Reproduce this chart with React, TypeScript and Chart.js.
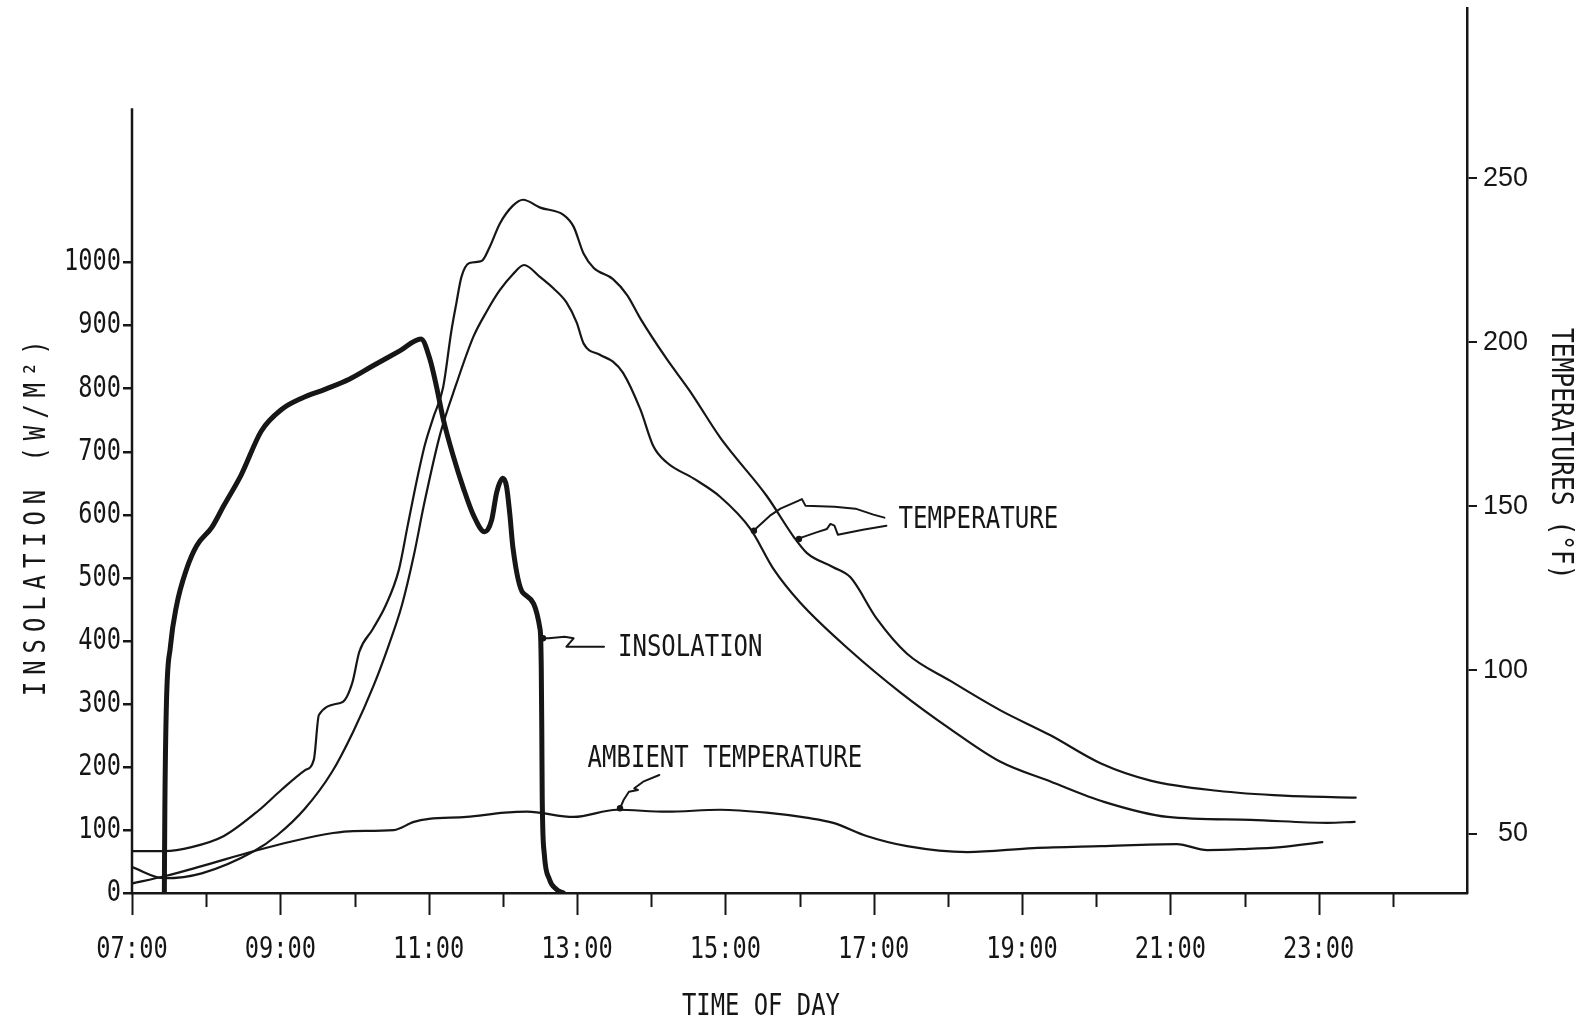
import React, { useEffect, useRef } from 'react';
import { Chart, registerables } from 'chart.js';

Chart.register(...registerables);

// ---------------- data ----------------
const xTickHours = [7, 9, 11, 13, 15, 17, 19, 21, 23];
const xTickLabels = ['07:00', '09:00', '11:00', '13:00', '15:00', '17:00', '19:00', '21:00', '23:00'];
const insolationTicks = [0, 100, 200, 300, 400, 500, 600, 700, 800, 900, 1000];
const temperatureTicks = [50, 100, 150, 200, 250];

// Insolation (W/m2), thick line, left axis
const insolationTime = [7.436, 7.443, 7.463, 7.518, 7.599, 7.736, 7.872, 8.076, 8.24, 8.471, 8.744, 9.016, 9.289, 9.602, 9.929, 10.243, 10.61, 10.896, 11.019, 11.108, 11.196, 11.332, 11.469, 11.605, 11.755, 11.85, 11.918, 12.0, 12.05, 12.095, 12.136, 12.272, 12.504, 12.518, 12.525, 12.531, 12.559, 12.627, 12.722, 12.817];
const insolationWm2 = [0, 135, 295, 391, 455, 514, 551, 580, 615, 663, 733, 767, 785, 799, 815, 836, 860, 879, 846, 802, 752, 693, 642, 599, 573, 592, 636, 658, 645, 600, 548, 476, 417, 359, 263, 151, 62, 22, 6, 0];

// Collector temperature, higher curve (deg F), right axis
const tempATime = [7.0, 7.436, 7.804, 8.24, 8.703, 9.016, 9.33, 9.452, 9.52, 9.834, 9.97, 10.065, 10.243, 10.42, 10.597, 10.719, 10.842, 10.951, 11.06, 11.196, 11.305, 11.373, 11.441, 11.55, 11.714, 11.823, 11.959, 12.136, 12.272, 12.504, 12.817, 12.954, 13.09, 13.226, 13.485, 13.676, 13.853, 14.207, 14.52, 14.929, 15.106, 15.556, 15.924, 16.101, 16.455, 16.687, 17.041, 17.45, 18.035, 18.703, 19.384, 20.065, 20.733, 21.632, 22.531, 23.499];
const tempAValues = [44.8, 44.8, 46.0, 49.4, 57.1, 63.5, 69.4, 72.7, 86.3, 90.2, 96.1, 105.6, 112.4, 119.7, 130.5, 144.3, 158.1, 168.9, 176.9, 186.4, 203.3, 211.9, 219.9, 224.2, 224.8, 229.1, 236.2, 241.7, 243.5, 241.1, 238.9, 235.3, 227.0, 222.7, 219.3, 214.4, 207.3, 195.0, 185.2, 171.0, 165.8, 153.2, 140.6, 135.7, 131.4, 128.3, 115.7, 105.0, 96.7, 87.8, 80.1, 71.5, 66.3, 63.2, 61.7, 61.1];

// Collector temperature, lower curve (deg F), right axis
const tempBTime = [7.0, 7.436, 7.94, 8.649, 8.962, 9.33, 9.698, 9.984, 10.256, 10.46, 10.638, 10.801, 10.937, 11.155, 11.373, 11.605, 11.782, 11.959, 12.136, 12.286, 12.504, 12.681, 12.858, 12.995, 13.09, 13.308, 13.485, 13.621, 13.853, 14.03, 14.207, 14.575, 14.929, 15.338, 15.651, 16.005, 16.687, 17.354, 18.035, 18.703, 19.384, 20.106, 20.965, 22.082, 23.117, 23.485];
const tempBValues = [39.9, 36.5, 38.0, 44.8, 49.7, 57.7, 69.0, 81.3, 95.2, 107.5, 119.7, 135.1, 150.5, 172.0, 187.3, 201.8, 209.4, 215.9, 220.8, 223.6, 219.9, 216.5, 212.2, 206.1, 199.6, 196.2, 194.1, 190.7, 179.6, 168.3, 163.4, 158.4, 152.9, 143.1, 130.8, 120.7, 105.9, 93.3, 82.0, 72.1, 66.0, 59.8, 55.2, 54.3, 53.4, 53.7];

// Ambient temperature (deg F), right axis
const ambientTime = [7.0, 7.436, 7.94, 8.649, 9.166, 9.711, 9.984, 10.529, 10.801, 11.005, 11.51, 12.027, 12.327, 12.954, 13.54, 14.207, 14.929, 15.556, 16.114, 16.455, 16.905, 17.45, 18.267, 19.153, 20.065, 21.087, 21.496, 21.973, 22.49, 23.049];
const ambientValues = [34.9, 37.1, 40.2, 44.8, 47.8, 50.3, 50.9, 51.2, 53.7, 54.6, 55.2, 56.5, 56.8, 55.2, 57.4, 56.8, 57.4, 56.5, 54.9, 53.4, 49.4, 46.3, 44.5, 45.7, 46.3, 46.9, 45.1, 45.4, 46.0, 47.5];

// ---------------- style / layout ----------------
const INK = '#161616';
const RIGHT_TICK_FONT = "'Liberation Sans', Arial, sans-serif";
const MONO = "'DejaVu Sans Mono', 'Liberation Mono', monospace";
const X_MIN = 7;
const X_MAX = 25;
const Y_MAX = 1404;
const Y2_MIN = 32;
const Y2_MAX = 302;
const LEFT_AXIS_TOP = 1245;

const pts = (ts: number[], vs: number[]) => ts.map((t, i) => ({ x: t, y: vs[i] }));

function text(
  ctx: CanvasRenderingContext2D,
  s: string,
  x: number,
  y: number,
  size: number,
  sx: number,
  rot = 0,
  align: CanvasTextAlign = 'left',
  spacing = 0
) {
  ctx.save();
  ctx.translate(x, y);
  if (rot) ctx.rotate(rot);
  ctx.scale(sx, 1);
  ctx.font = `${size}px ${MONO}`;
  (ctx as any).letterSpacing = `${spacing}px`;
  ctx.textAlign = align;
  ctx.textBaseline = 'middle';
  ctx.fillStyle = INK;
  ctx.fillText(s, 0, 0);
  ctx.restore();
}

function arrow(ctx: CanvasRenderingContext2D, ox: number, oy: number, path: number[][]) {
  ctx.save();
  ctx.strokeStyle = INK;
  ctx.fillStyle = INK;
  ctx.lineWidth = 2;
  ctx.lineJoin = 'round';
  ctx.lineCap = 'round';
  ctx.beginPath();
  path.forEach(([dx, dy], i) => {
    if (i === 0) ctx.moveTo(ox + dx, oy + dy);
    else ctx.lineTo(ox + dx, oy + dy);
  });
  ctx.stroke();
  const [ex, ey] = path[path.length - 1];
  ctx.beginPath();
  ctx.arc(ox + ex, oy + ey, 3.2, 0, Math.PI * 2);
  ctx.fill();
  ctx.restore();
}

const noPad = (s: any) => {
  s.paddingTop = 0;
  s.paddingBottom = 0;
  s.paddingLeft = 0;
  s.paddingRight = 0;
};

const decor = {
  id: 'decor',
  afterDraw(chart: any) {
    const { ctx, chartArea, scales } = chart;
    const xs = scales.x;
    const ys = scales.y;
    const y2 = scales.y2;
    ctx.save();
    ctx.strokeStyle = INK;
    ctx.lineWidth = 2.5;
    ctx.lineCap = 'butt';
    // left axis line (shorter than the right one)
    const xl = xs.getPixelForValue(X_MIN);
    ctx.beginPath();
    ctx.moveTo(xl, ys.getPixelForValue(0) + 1);
    ctx.lineTo(xl, ys.getPixelForValue(LEFT_AXIS_TOP));
    ctx.stroke();
    // hour tick marks below the x axis
    ctx.lineWidth = 2;
    ctx.beginPath();
    for (let h = X_MIN; h <= 24; h++) {
      const px = Math.round(xs.getPixelForValue(h)) + 0.5;
      const len = h % 2 === 1 ? 22 : 14;
      ctx.moveTo(px, chartArea.bottom);
      ctx.lineTo(px, chartArea.bottom + len);
    }
    ctx.stroke();
    ctx.restore();

    // tick labels (plotter-style condensed monospace), placed by the scales
    ys.ticks.forEach((t: any) => {
      text(ctx, String(t.value), chartArea.left - 11, ys.getPixelForValue(t.value), 30, 0.79, 0, 'right');
    });
    xs.ticks.forEach((t: any) => {
      const i = xTickHours.indexOf(t.value);
      if (i >= 0) text(ctx, xTickLabels[i], xs.getPixelForValue(t.value), chartArea.bottom + 57, 30, 0.79, 0, 'center');
    });

    // axis titles
    text(ctx, 'INSOLATION (W/M²)', chartArea.left - 94.5, ys.getPixelForValue(600), 30, 0.8, -Math.PI / 2, 'center', 8.6);
    text(ctx, 'TEMPERATURES (°F)', chartArea.right + 93, y2.getPixelForValue(166), 30, 0.82, Math.PI / 2, 'center');
    text(ctx, 'TIME OF DAY', xs.getPixelForValue(15.48), chartArea.bottom + 114, 30, 0.795, 0, 'center');

    // curve annotations
    const tx = xs.getPixelForValue(17.334);
    const ty = y2.getPixelForValue(145.6);
    text(ctx, 'TEMPERATURE', tx, ty, 30, 0.805);
    arrow(ctx, tx, ty, [[-14, -3], [-25, -6], [-43, -12], [-64, -14], [-93, -15], [-96.5, -21.5], [-102, -19], [-118, -12], [-128.5, -5], [-143, 8.3], [-144.5, 10]]);
    arrow(ctx, tx, ty, [[-12, 5], [-35.6, 9], [-60.6, 14], [-64, 5], [-68, 3.3], [-71.5, 8.3], [-82, 11.7], [-96.5, 16.7], [-99.5, 18.3]]);

    const ix = xs.getPixelForValue(13.553);
    const iy = ys.getPixelForValue(388.7);
    text(ctx, 'INSOLATION', ix, iy, 30, 0.8);
    arrow(ctx, ix, iy, [[-14, -1.3], [-51.6, -1.3], [-44.4, -9.7], [-53.4, -11.3], [-69.4, -9.7], [-75, -9.7]]);

    const ax = xs.getPixelForValue(13.143);
    const ay = ys.getPixelForValue(212.6);
    text(ctx, 'AMBIENT TEMPERATURE', ax, ay, 30, 0.8);
    arrow(ctx, ax, ay, [[71.7, 16], [55.6, 22.7], [46.7, 29.3], [50.3, 31], [41.3, 32.7], [36, 41], [32.4, 49.3]]);
  },
};

export default function App() {
  const ref = useRef<HTMLCanvasElement>(null);

  useEffect(() => {
    const line = (data: any, axis: string, width: number) => ({
      data,
      yAxisID: axis,
      borderColor: INK,
      backgroundColor: INK,
      borderWidth: width,
      pointRadius: 0,
      fill: false,
      cubicInterpolationMode: 'monotone',
      borderCapStyle: 'round',
      borderJoinStyle: 'round',
    });

    const chart = new Chart(ref.current as HTMLCanvasElement, {
      type: 'line',
      data: {
        datasets: [
          { label: 'Insolation', ...line(pts(insolationTime, insolationWm2), 'y', 5) },
          { label: 'Temperature (upper)', ...line(pts(tempATime, tempAValues), 'y2', 2.2) },
          { label: 'Temperature (lower)', ...line(pts(tempBTime, tempBValues), 'y2', 2.2) },
          { label: 'Ambient temperature', ...line(pts(ambientTime, ambientValues), 'y2', 2.2) },
        ] as any,
      },
      options: {
        animation: false,
        responsive: true,
        maintainAspectRatio: false,
        events: [],
        layout: { padding: { top: 8, left: 0, right: 55, bottom: 0 } },
        plugins: { legend: { display: false }, tooltip: { enabled: false }, title: { display: false } },
        scales: {
          x: {
            type: 'linear',
            min: X_MIN,
            max: X_MAX,
            afterFit: (s: any) => {
              s.height = 132;
              noPad(s);
            },
            grid: { display: false, drawTicks: false },
            border: { display: true, color: INK, width: 2.5 },
            ticks: { display: false, stepSize: 1, autoSkip: false, maxRotation: 0, minRotation: 0 },
          },
          y: {
            type: 'linear',
            position: 'left',
            min: 0,
            max: Y_MAX,
            afterBuildTicks: (s: any) => {
              s.ticks = insolationTicks.map((v) => ({ value: v }));
            },
            afterFit: (s: any) => {
              s.width = 132;
              noPad(s);
            },
            border: { display: false },
            grid: { display: true, drawOnChartArea: false, drawTicks: true, tickLength: 9, color: INK, lineWidth: 2.5 },
            ticks: { display: false },
          },
          y2: {
            type: 'linear',
            position: 'right',
            min: Y2_MIN,
            max: Y2_MAX,
            afterBuildTicks: (s: any) => {
              s.ticks = temperatureTicks.map((v) => ({ value: v }));
            },
            afterFit: (s: any) => {
              s.width = 61;
              noPad(s);
            },
            border: { display: true, color: INK, width: 2.5 },
            grid: { display: true, drawOnChartArea: false, drawTicks: true, tickLength: 10, color: INK, lineWidth: 2 },
            ticks: { padding: 6, crossAlign: 'far', color: INK, font: { family: RIGHT_TICK_FONT, size: 27 } },
          },
        },
      } as any,
      plugins: [decor],
    });
    return () => chart.destroy();
  }, []);

  return (
    <div style={{ position: 'fixed', left: 0, top: 0, width: 1583, height: 1025, background: '#fff' }}>
      <canvas ref={ref} />
    </div>
  );
}
